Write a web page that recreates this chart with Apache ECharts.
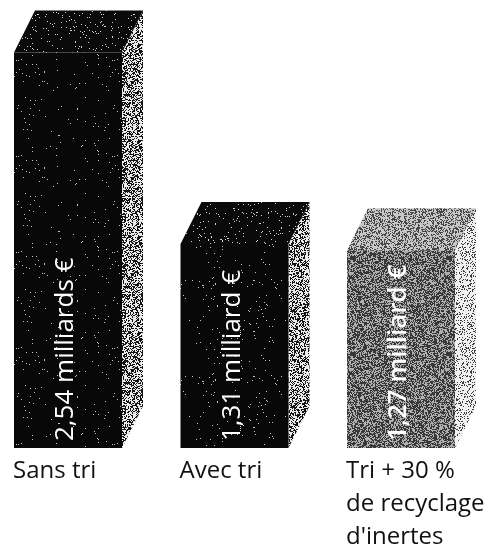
<!DOCTYPE html>
<html><head><meta charset="utf-8">
<script src="https://cdn.jsdelivr.net/npm/echarts@6/dist/echarts.min.js"></script>
<style>html,body{margin:0;padding:0;background:#fff}#c{width:486px;height:547px}</style>
</head><body><div id="c"></div>
<script>
const categories = ['Sans tri', 'Avec tri', 'Tri + 30 %\nde recyclage\nd\'inertes'];
const values = [2.54, 1.31, 1.27];
const valueLabels = ['2,54 milliards €', '1,31 milliard €', '1,27 milliard €'];

// deterministic speckle texture (style only)
function makeNoise(lightFrac, dark, light, seed) {
  const s = 96, cv = document.createElement('canvas');
  cv.width = s; cv.height = s;
  const ctx = cv.getContext('2d');
  const img = ctx.createImageData(s, s);
  let st = seed >>> 0;
  function rnd() { st = (st * 1664525 + 1013904223) >>> 0; return st / 4294967296; }
  for (let i = 0; i < s * s; i++) {
    const c = rnd() < lightFrac ? light : dark;
    img.data[i * 4] = c; img.data[i * 4 + 1] = c; img.data[i * 4 + 2] = c; img.data[i * 4 + 3] = 255;
  }
  ctx.putImageData(img, 0, 0);
  return { image: cv, repeat: 'repeat' };
}
const faceStyles = [
  { front: makeNoise(0.012, 8, 200, 11), top: makeNoise(0.035, 10, 210, 23), side: makeNoise(0.55, 20, 235, 37) },
  { front: makeNoise(0.012, 8, 200, 41), top: makeNoise(0.035, 10, 210, 53), side: makeNoise(0.55, 20, 235, 67) },
  { front: makeNoise(0.45, 55, 175, 71), top: makeNoise(0.6, 70, 200, 83), side: makeNoise(0.78, 60, 240, 97) }
];

const chart = echarts.init(document.getElementById('c'), null, { renderer: 'canvas' });
const FW = 108, DX = 21, DY = -42;
chart.setOption({
  animation: false,
  grid: { left: 68, right: 85, top: 12, bottom: 99 },
  xAxis: { type: 'category', data: categories, boundaryGap: false, show: false },
  yAxis: { type: 'value', min: 0, max: 2.8, show: false },
  series: [{
    type: 'custom',
    data: values.map((v, i) => [i, v]),
    renderItem: function (params, api) {
      const i = api.value(0);
      const t = api.coord([i, api.value(1)]);
      const b = api.coord([i, 0]);
      const fl = t[0] - FW / 2, fr = t[0] + FW / 2, ty = t[1], by = b[1];
      const st = faceStyles[i];
      return {
        type: 'group',
        children: [
          { type: 'polygon', shape: { points: [[fr, ty], [fr + DX, ty + DY], [fr + DX, by + DY], [fr, by]] }, style: { fill: st.side } },
          { type: 'polygon', shape: { points: [[fl, ty], [fr, ty], [fr + DX, ty + DY], [fl + DX, ty + DY]] }, style: { fill: st.top } },
          { type: 'rect', shape: { x: fl, y: ty, width: FW, height: by - ty }, style: { fill: st.front } },
          { type: 'text', x: t[0] - 2, y: by - 7, rotation: Math.PI / 2,
            style: { text: valueLabels[i], fill: '#fff', font: (i === 2 ? '600 ' : '400 ') + '26px "Open Sans"', textAlign: 'left', textVerticalAlign: 'middle' } },
          { type: 'text', x: fl - 1, y: by + 7,
            style: { text: categories[i], fill: '#111', font: '24px "Open Sans"', lineHeight: 33, textAlign: 'left', textVerticalAlign: 'top' } }
        ]
      };
    }
  }]
});
</script></body></html>
